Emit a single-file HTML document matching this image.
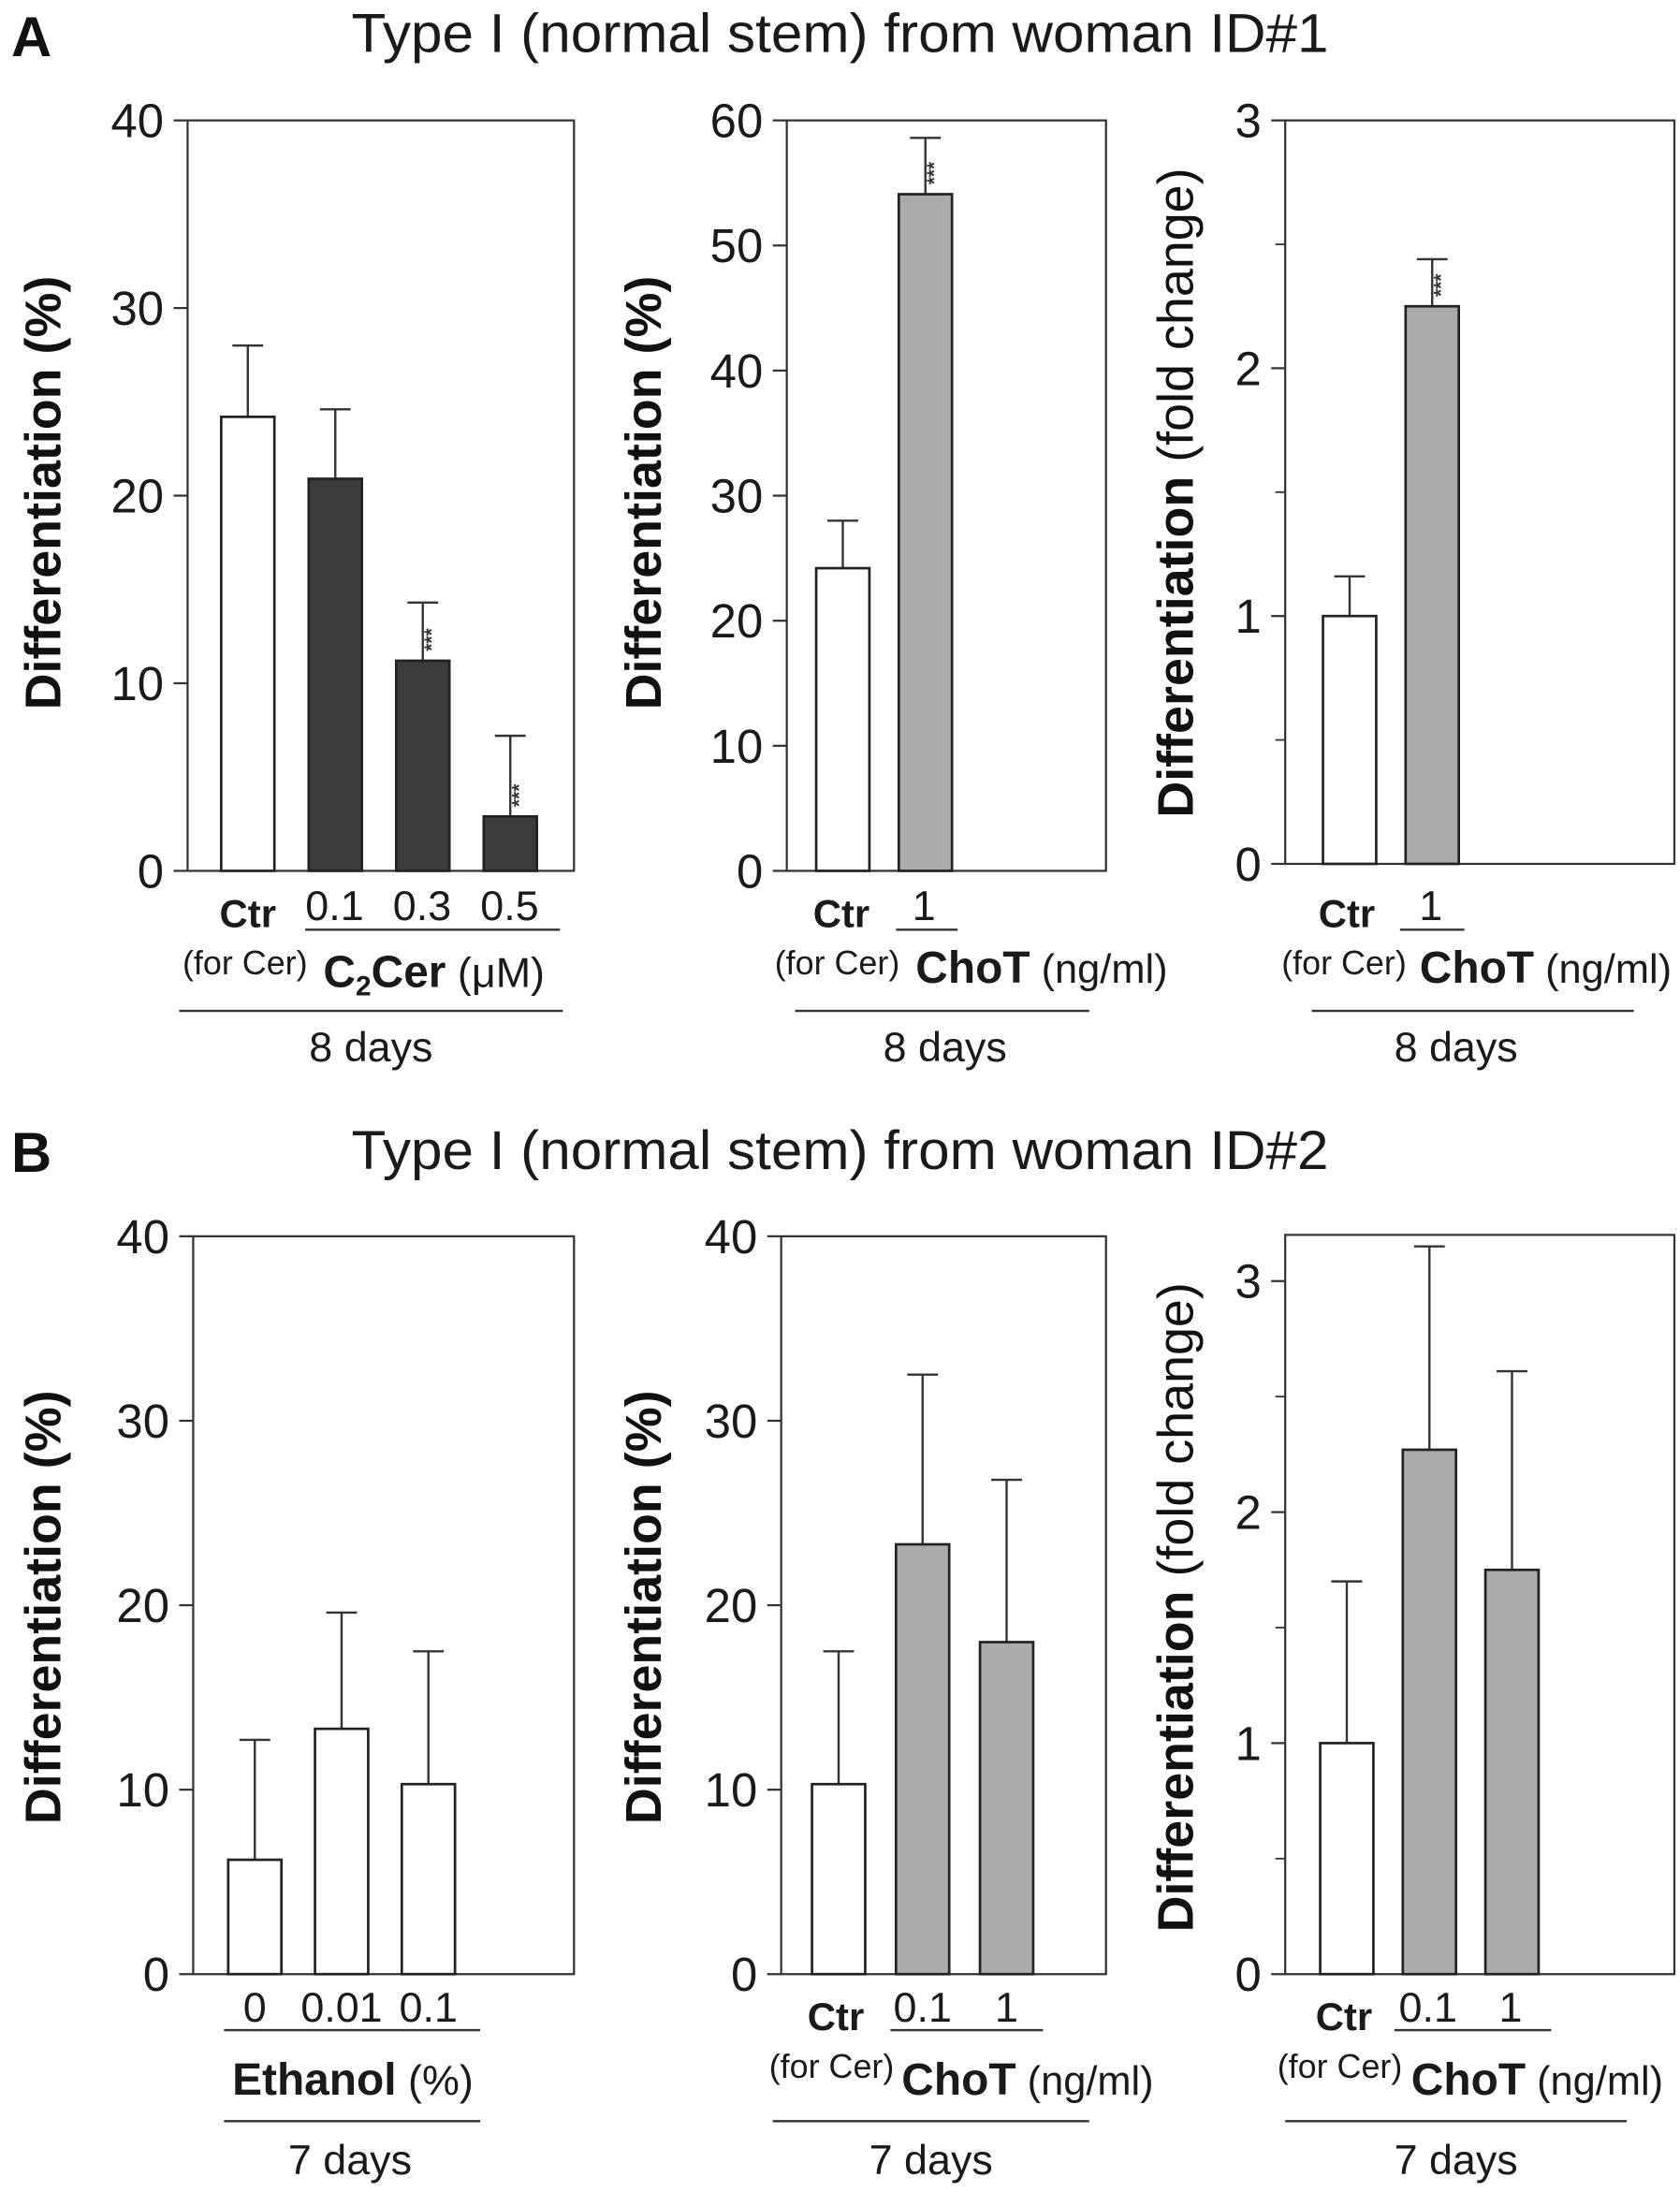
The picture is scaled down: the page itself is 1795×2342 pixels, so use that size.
<!DOCTYPE html>
<html><head><meta charset="utf-8">
<style>
html,body{margin:0;padding:0;background:#fff;}
svg{display:block;font-family:"Liberation Sans",Arial,sans-serif;}
</style></head>
<body>
<svg id="fig" width="1795" height="2342" viewBox="0 0 1200 1565.6" preserveAspectRatio="none" xmlns="http://www.w3.org/2000/svg">
<text x="8" y="40" font-size="40" font-weight="bold" fill="#111">A</text>
<text x="600" y="37" font-size="39" text-anchor="middle" fill="#1a1a1a" textLength="698" lengthAdjust="spacingAndGlyphs">Type I (normal stem) from woman ID#1</text>
<text x="8" y="837" font-size="40" font-weight="bold" fill="#111">B</text>
<text x="600" y="835" font-size="39" text-anchor="middle" fill="#1a1a1a" textLength="698" lengthAdjust="spacingAndGlyphs">Type I (normal stem) from woman ID#2</text>
</svg>
<script>
// Panel A1 data (C2Cer)
const a1Categories = ["Ctr", "0.1", "0.3", "0.5"];
const a1Values = [24.2, 20.9, 11.2, 2.9];
const a1Errors = [28.0, 24.6, 14.3, 7.2];
const a1Ticks = [0, 10, 20, 30, 40];
// Panel A2 data (ChoT %)
const a2Categories = ["Ctr", "1"];
const a2Values = [24.2, 54.1];
const a2Errors = [28.0, 58.6];
const a2Ticks = [0, 10, 20, 30, 40, 50, 60];
// Panel A3 data (ChoT fold)
const a3Categories = ["Ctr", "1"];
const a3Values = [1.0, 2.25];
const a3Errors = [1.16, 2.44];
const a3Ticks = [0, 1, 2, 3];
// Panel B1 data (Ethanol)
const b1Categories = ["0", "0.01", "0.1"];
const b1Values = [6.2, 13.3, 10.3];
const b1Errors = [12.7, 19.6, 17.5];
const b1Ticks = [0, 10, 20, 30, 40];
// Panel B2 data (ChoT %)
const b2Categories = ["Ctr", "0.1", "1"];
const b2Values = [10.3, 23.3, 18.0];
const b2Errors = [17.5, 32.5, 26.8];
const b2Ticks = [0, 10, 20, 30, 40];
// Panel B3 data (ChoT fold)
const b3Categories = ["Ctr", "0.1", "1"];
const b3Values = [1.0, 2.27, 1.75];
const b3Errors = [1.7, 3.15, 2.61];
const b3Ticks = [0, 1, 2, 3];

const NS = "http://www.w3.org/2000/svg";
const svg = document.getElementById("fig");
function mk(tag, attrs, parent, text) {
  const e = document.createElementNS(NS, tag);
  for (const k in attrs) e.setAttribute(k, attrs[k]);
  if (text !== undefined) e.textContent = text;
  (parent || svg).appendChild(e);
  return e;
}

function panel(p, cats, vals, errs, ticks) {
  const g = mk("g", {});
  
  
  const y = v => p.y1 - (v - p.vmin) / (p.vmax - p.vmin) * (p.y1 - p.y0);
  const fr = mk("rect", {x: p.x0, y: p.y0, width: p.x1 - p.x0, height: p.y1 - p.y0, fill: "none", stroke: "#333", "stroke-width": 1.5}, g);
  
  
  ticks.forEach(t => {
    const ty = y(t);
    const tk = mk("line", {x1: p.x0 - 10, x2: p.x0, y1: ty, y2: ty, stroke: "#333", "stroke-width": 1.5}, g);
    
    
    const tl = mk("text", {x: p.x0 - 17, y: ty + 12, "font-size": 34, "text-anchor": "end", fill: "#1a1a1a"}, g, String(t));
    
    
  });
  if (p.minor) {
    for (let t = ticks[0] + 0.5; t < p.vmax; t += 1) {
      const ty = y(t);
      const mt = mk("line", {x1: p.x0 - 7, x2: p.x0, y1: ty, y2: ty, stroke: "#333", "stroke-width": 1.2}, g);
      
      
    }
  }
  const yt = mk("text", {x: 0, y: 0, "font-size": 36, "text-anchor": "middle", fill: "#111", transform: `translate(${p.ytx},${p.yty}) rotate(-90)`}, g);
  
  
  mk("tspan", {"font-weight": "bold"}, yt, "Differentiation");
  mk("tspan", {"font-weight": p.fold ? "normal" : "bold"}, yt, p.fold ? "  (fold change)" : " (%)");
  cats.forEach((c, i) => {
    const bx = p.barX0 + i * p.step;
    const top = y(vals[i]);
    const cx = bx + p.bw / 2;
    const ey = y(errs[i]);
    const el = mk("line", {x1: cx, x2: cx, y1: top, y2: ey, stroke: "#333", "stroke-width": 1.6}, g);
    
    
    const cp = mk("line", {x1: cx - 11, x2: cx + 11, y1: ey, y2: ey, stroke: "#333", "stroke-width": 1.6}, g);
    
    
    const b = mk("rect", {x: bx, y: top, width: p.bw, height: y(p.vmin) - top, fill: p.fills[i], stroke: "#222", "stroke-width": 1.8}, g);
    
    
    if (p.stars && p.stars[i]) {
      const st = mk("text", {x: 0, y: 0, "font-size": 14, "font-weight": "bold", fill: "#333", "text-anchor": "middle", transform: `translate(${cx + 11},${top - 15}) rotate(-90)`}, g, "***");
      
      
    }
  });
  return {g, y};
}

function txt(x, yy, s, size, anchor, weight, name) {
  const t = mk("text", {x: x, y: yy, "font-size": size, "text-anchor": anchor || "middle", "font-weight": weight || "normal", fill: "#1a1a1a"});
  
  
  t.textContent = s;
  return t;
}
function hline(x1, x2, yy, name) {
  const l = mk("line", {x1: x1, x2: x2, y1: yy, y2: yy, stroke: "#333", "stroke-width": 1.6});
  
  
}
function choT(x, yy) {
  const t = mk("text", {x: x, y: yy, "font-size": 29, fill: "#1a1a1a"});
  
  
  mk("tspan", {"font-weight": "bold", "font-size": 32}, t, "ChoT");
  mk("tspan", {}, t, " (ng/ml)");
}

const W = "#fff", D = "#3c3c3c", G = "#ababab";
// A1
panel({name: "panel-a1", x0: 134, x1: 410, y0: 86, y1: 622, vmin: 0, vmax: 40, ytx: 43, yty: 352, barX0: 158, step: 62.5, bw: 38, fills: [W, D, D, D], stars: [0, 0, 1, 1]}, a1Categories, a1Values, a1Errors, a1Ticks);
txt(177, 662, "Ctr", 28, "middle", "bold", "x-label-ctr");
txt(175, 696, "(for Cer)", 24, "middle", "normal", "x-label-for-cer");
a1Categories.slice(1).forEach((c, i) => txt(239 + i * 62.5, 657, c, 30, "middle", "normal", "x-label-dose"));
hline(218, 400, 664, "dose-group-line");
(function(){ const t = mk("text", {x: 310, y: 705, "font-size": 30, "text-anchor": "middle", fill: "#1a1a1a"});
   
  mk("tspan", {"font-weight": "bold", "font-size": 32}, t, "C");
  mk("tspan", {"font-weight": "bold", "font-size": 20, dy: 6}, t, "2");
  mk("tspan", {"font-weight": "bold", "font-size": 32, dy: -6}, t, "Cer");
  mk("tspan", {}, t, " (μM)"); })();
hline(128, 402, 722, "time-group-line");
txt(265, 758, "8 days", 30, "middle", "normal", "time-label");
// A2
panel({name: "panel-a2", x0: 562, x1: 790, y0: 86, y1: 622, vmin: 0, vmax: 60, ytx: 472, yty: 352, barX0: 583, step: 59, bw: 38, fills: [W, G], stars: [0, 1]}, a2Categories, a2Values, a2Errors, a2Ticks);
txt(601, 662, "Ctr", 28, "middle", "bold", "x-label-ctr");
txt(598, 696, "(for Cer)", 24, "middle", "normal", "x-label-for-cer");
txt(660, 657, "1", 30, "middle", "normal", "x-label-dose");
hline(640, 684, 664, "dose-group-line");
choT(654, 702);
hline(568, 778, 722, "time-group-line");
txt(675, 758, "8 days", 30, "middle", "normal", "time-label");
// A3
panel({name: "panel-a3", x0: 918, x1: 1196, y0: 86, y1: 617, vmin: 0, vmax: 3, ytx: 852, yty: 352, barX0: 945, step: 59, bw: 38, fills: [W, G], stars: [0, 1], fold: true, minor: true}, a3Categories, a3Values, a3Errors, a3Ticks);
txt(962, 662, "Ctr", 28, "middle", "bold", "x-label-ctr");
txt(960, 696, "(for Cer)", 24, "middle", "normal", "x-label-for-cer");
txt(1022, 657, "1", 30, "middle", "normal", "x-label-dose");
hline(1000, 1046, 664, "dose-group-line");
choT(1014, 702);
hline(937, 1167, 722, "time-group-line");
txt(1040, 758, "8 days", 30, "middle", "normal", "time-label");
// B1
panel({name: "panel-b1", x0: 138, x1: 410, y0: 883, y1: 1410, vmin: 0, vmax: 40, ytx: 43, yty: 1148, barX0: 163, step: 62, bw: 38, fills: [W, W, W]}, b1Categories, b1Values, b1Errors, b1Ticks);
b1Categories.forEach((c, i) => txt(182 + i * 62, 1444, c, 30, "middle", "normal", "x-label-dose"));
hline(160, 343, 1450, "dose-group-line");
(function(){ const t = mk("text", {x: 252, y: 1496, "font-size": 30, "text-anchor": "middle", fill: "#1a1a1a"});
   
  mk("tspan", {"font-weight": "bold", "font-size": 32}, t, "Ethanol");
  mk("tspan", {}, t, " (%)"); })();
hline(160, 343, 1515, "time-group-line");
txt(250, 1553, "7 days", 30, "middle", "normal", "time-label");
// B2
panel({name: "panel-b2", x0: 558, x1: 790, y0: 883, y1: 1410, vmin: 0, vmax: 40, ytx: 472, yty: 1148, barX0: 580, step: 60, bw: 38, fills: [W, G, G]}, b2Categories, b2Values, b2Errors, b2Ticks);
txt(597, 1450, "Ctr", 28, "middle", "bold", "x-label-ctr");
txt(594, 1484, "(for Cer)", 24, "middle", "normal", "x-label-for-cer");
txt(659, 1444, "0.1", 30, "middle", "normal", "x-label-dose");
txt(719, 1444, "1", 30, "middle", "normal", "x-label-dose");
hline(636, 745, 1450, "dose-group-line");
choT(644, 1496);
hline(552, 778, 1515, "time-group-line");
txt(665, 1553, "7 days", 30, "middle", "normal", "time-label");
// B3
panel({name: "panel-b3", x0: 918, x1: 1196, y0: 882, y1: 1410, vmin: 0, vmax: 3.2, ytx: 852, yty: 1148, barX0: 943, step: 59, bw: 38, fills: [W, G, G], fold: true, minor: true}, b3Categories, b3Values, b3Errors, b3Ticks);
txt(960, 1450, "Ctr", 28, "middle", "bold", "x-label-ctr");
txt(957, 1484, "(for Cer)", 24, "middle", "normal", "x-label-for-cer");
txt(1020, 1444, "0.1", 30, "middle", "normal", "x-label-dose");
txt(1079, 1444, "1", 30, "middle", "normal", "x-label-dose");
hline(996, 1108, 1450, "dose-group-line");
choT(1008, 1496);
hline(918, 1162, 1515, "time-group-line");
txt(1040, 1553, "7 days", 30, "middle", "normal", "time-label");
</script>
</body></html>
